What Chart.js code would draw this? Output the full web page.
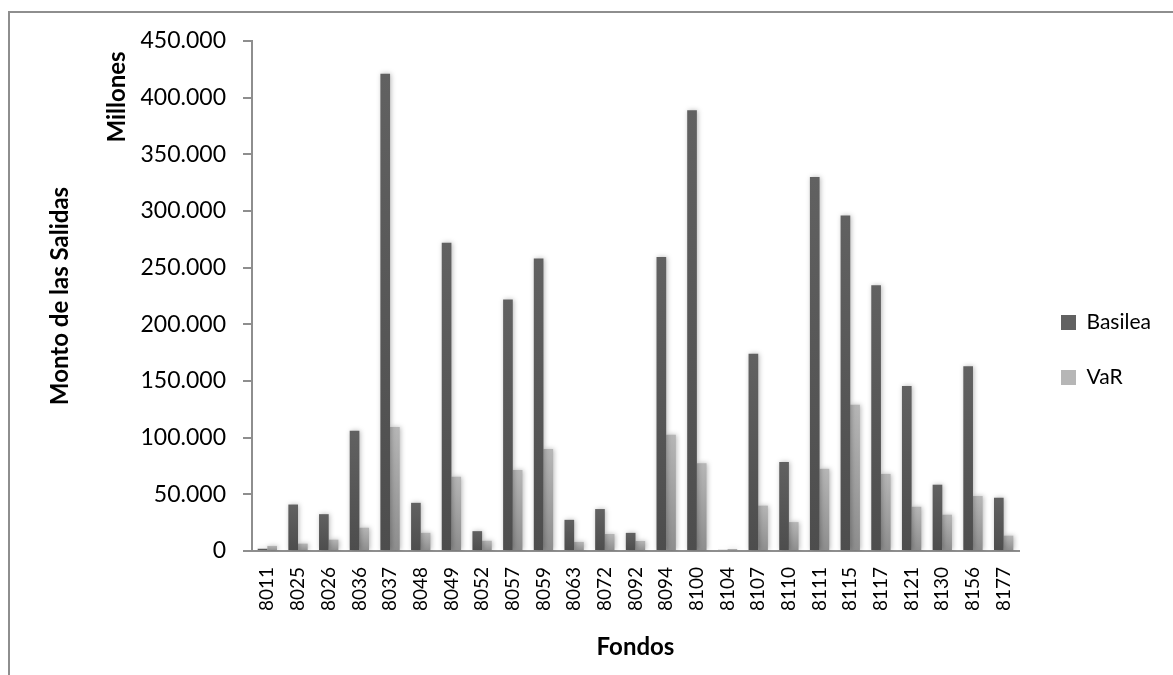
<!DOCTYPE html>
<html>
<head>
<meta charset="utf-8">
<script src="https://cdn.jsdelivr.net/npm/chart.js@4.4.1/dist/chart.umd.min.js"></script>
<style>
  html, body { margin: 0; padding: 0; background: #fff; overflow: hidden; }
  #wrap { position: relative; width: 1173px; height: 675px; }
  #frame { position: absolute; left: 8px; top: 11px; width: 1300px; height: 800px;
           border: 2px solid #8e8e8e; box-sizing: border-box; }
  canvas { position: absolute; left: 0; top: 0; }
</style>
</head>
<body>
<div id="wrap">
  <div id="frame"></div>
  <canvas id="chart" width="1173" height="675"></canvas>
</div>
<script>
// Fund codes on the horizontal axis
const fondos = ['8011', '8025', '8026', '8036', '8037', '8048', '8049', '8052', '8057',
                '8059', '8063', '8072', '8092', '8094', '8100', '8104', '8107', '8110',
                '8111', '8115', '8117', '8121', '8130', '8156', '8177'];

// Outflow amounts per fund (in millions)
const basilea = [2000, 41000, 32500, 106000, 421000, 42500, 272000, 17500, 222000,
                 258000, 27500, 37000, 16000, 259500, 389000, 1000, 174000, 78500,
                 330000, 296000, 234500, 145500, 58500, 163000, 47000];
const valorEnRiesgo = [4500, 6500, 10000, 20500, 109500, 16000, 65500, 9000, 71500,
                       90000, 8000, 15000, 8800, 102500, 77500, 1800, 40000, 25500,
                       72500, 129000, 68000, 39000, 32000, 48500, 13500];

// Value axis range
const yMin = 0;
const yMax = 450000;
const yStep = 50000;

const FONT = 'Lato';

// Thousands separated with dots: 450000 -> "450.000"
function miles(v) {
  return String(v).replace(/\B(?=(\d{3})+(?!\d))/g, '.');
}

// Vertical gradient per bar, lighter at the top
function barFill(top, bottom, flat) {
  return (ctx) => {
    const chart = ctx.chart;
    if (!chart.chartArea || ctx.raw === undefined) return flat;
    const y = chart.scales.y;
    const yTop = y.getPixelForValue(ctx.raw);
    const yBase = y.getPixelForValue(0);
    if (!(yBase - yTop > 1)) return flat;
    const g = chart.ctx.createLinearGradient(0, yTop, 0, yBase);
    g.addColorStop(0, top);
    g.addColorStop(1, bottom);
    return g;
  };
}

// Soft shadow around the bars
const barShadow = {
  id: 'barShadow',
  beforeDatasetsDraw(chart) {
    const c = chart.ctx;
    c.save();
    c.shadowColor = 'rgba(0,0,0,0.28)';
    c.shadowBlur = 5;
    c.shadowOffsetX = 1;
    c.shadowOffsetY = 0;
  },
  afterDatasetsDraw(chart) {
    chart.ctx.restore();
  }
};

// Unit caption next to the value axis
const unitLabel = {
  id: 'unitLabel',
  afterDraw(chart) {
    const c = chart.ctx;
    c.save();
    c.translate(117, chart.chartArea.top + 56);
    c.rotate(-Math.PI / 2);
    c.font = 'bold 24px ' + FONT;
    c.textAlign = 'center';
    c.textBaseline = 'middle';
    c.fillStyle = '#000';
    c.fillText('Millones', 0, 0);
    c.restore();
  }
};

// Legend geometry
const legendFontSize = 21;
const legendBox = 15;
const legendPad = 34;
const gapWidth = 8;
const meas = document.createElement('canvas').getContext('2d');
meas.font = legendFontSize + 'px ' + FONT;
const legendTextW = Math.max(meas.measureText('Basilea').width, meas.measureText('VaR').width);
const legendW = legendBox + legendFontSize / 2 + legendTextW + legendPad + 10;
const plotRight = 1019;
const rightPad = Math.max(0, 1173 - plotRight - gapWidth - legendW);

new Chart(document.getElementById('chart'), {
  type: 'bar',
  data: {
    labels: fondos,
    datasets: [
      {
        label: 'Basilea',
        data: basilea,
        backgroundColor: barFill('#616161', '#4d4d4d', '#575757'),
        borderWidth: 0,
        categoryPercentage: 0.63,
        barPercentage: 1.0
      },
      {
        label: 'VaR',
        data: valorEnRiesgo,
        backgroundColor: barFill('#b6b6b6', '#8d8d8d', '#a3a3a3'),
        borderWidth: 0,
        categoryPercentage: 0.63,
        barPercentage: 1.0
      }
    ]
  },
  options: {
    responsive: false,
    animation: false,
    devicePixelRatio: 1,
    layout: { padding: { top: 41, right: rightPad, bottom: 16, left: 0 } },
    plugins: {
      tooltip: { enabled: false },
      legend: {
        position: 'right',
        align: 'center',
        labels: {
          boxWidth: legendBox,
          boxHeight: legendBox,
          padding: legendPad,
          color: '#000',
          font: { family: FONT, size: legendFontSize }
        }
      }
    },
    scales: {
      x: {
        grid: { display: true, drawOnChartArea: false, drawTicks: false },
        border: { display: true, color: '#8e8e8e', width: 2 },
        ticks: {
          autoSkip: false,
          minRotation: 90,
          maxRotation: 90,
          padding: 16,
          color: '#000',
          font: { family: FONT, size: 19 }
        },
        title: {
          display: true,
          text: 'Fondos',
          color: '#000',
          font: { family: FONT, size: 24, weight: 'bold', lineHeight: 1 },
          padding: 0
        },
        afterFit(s) { s.height = 108; }
      },
      y: {
        min: yMin,
        max: yMax,
        ticks: {
          stepSize: yStep,
          callback: (v) => miles(v),
          padding: 17,
          color: '#000',
          font: { family: FONT, size: 23 }
        },
        grid: { drawOnChartArea: false, drawTicks: true, tickLength: 9, color: '#8e8e8e', lineWidth: 2 },
        border: { display: true, color: '#8e8e8e', width: 2 },
        title: {
          display: true,
          text: 'Monto de las Salidas',
          color: '#000',
          font: { family: FONT, size: 24, weight: 'bold', lineHeight: 1 },
          padding: { top: 48, bottom: 0 }
        },
        afterFit(s) { s.width = 252; }
      },
      gap: {
        type: 'linear',
        position: 'right',
        display: true,
        grid: { display: false },
        border: { display: false },
        ticks: { display: false },
        afterFit(s) { s.width = gapWidth; }
      }
    }
  },
  plugins: [barShadow, unitLabel]
});
</script>
</body>
</html>
